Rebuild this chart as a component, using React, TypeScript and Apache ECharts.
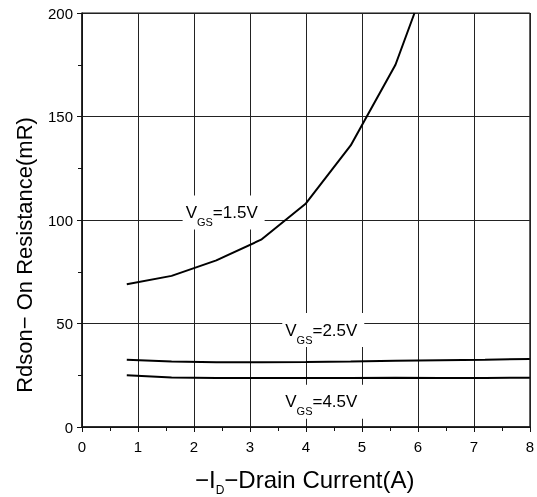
import React, { useEffect, useRef } from "react";
import * as echarts from "echarts";

// Drain current (A) sample points
const currentA = [0.8, 1.6, 2.4, 3.2, 4.0, 4.8, 5.6, 6.4, 7.2, 8.0];
// Rdson (mΩ) for each gate voltage
const vgs15 = [69, 73, 80.5, 90.5, 108, 136, 175];
const vgs15EndX = 5.94;
const vgs15EndY = 200;
const vgs25 = [32.5, 31.6, 31.3, 31.3, 31.4, 31.6, 32.0, 32.3, 32.5, 32.9];
const vgs45 = [25.0, 23.9, 23.7, 23.7, 23.7, 23.7, 23.8, 23.7, 23.7, 23.8];

const xTicks = [0, 1, 2, 3, 4, 5, 6, 7, 8];
const yTicks = [0, 50, 100, 150, 200];

const curveLabels = [
  { tail: "=1.5V", anchor: [2.53, 103.6] },
  { tail: "=2.5V", anchor: [4.31, 46.8] },
  { tail: "=4.5V", anchor: [4.31, 12.2] },
];

export default function App() {
  const ref = useRef<HTMLDivElement>(null);
  useEffect(() => {
    if (!ref.current) return;
    const chart = echarts.init(ref.current, null, { renderer: "svg" });
    const pair = (xs: number[], ys: number[]) => ys.map((y, i) => [xs[i], y]);
    const d15 = pair(currentA, vgs15);
    d15.push([vgs15EndX, vgs15EndY]);
    const lineStyle = { color: "#000", width: 2 };
    const font = "'Liberation Sans', Arial, sans-serif";
    chart.setOption({
      animation: false,
      grid: {
        left: 82,
        right: 5,
        top: 13,
        bottom: 70,
        show: true,
        borderColor: "#111",
        borderWidth: 1,
      },
      xAxis: {
        type: "value",
        min: xTicks[0],
        max: xTicks[xTicks.length - 1],
        interval: 1,
        axisLine: { show: true, lineStyle: { color: "#111", width: 1.5 } },
        axisTick: { show: true, inside: false, length: 5, lineStyle: { color: "#111" } },
        minorTick: { show: true, splitNumber: 2, length: 4, lineStyle: { color: "#111" } },
        splitLine: { show: true, lineStyle: { color: "#222", width: 1 } },
        axisLabel: { color: "#000", fontSize: 15, fontFamily: font, margin: 12, showMaxLabel: true },
      },
      yAxis: {
        type: "value",
        min: yTicks[0],
        max: yTicks[yTicks.length - 1],
        interval: 50,
        axisLine: { show: true, lineStyle: { color: "#111", width: 1.5 } },
        axisTick: { show: true, inside: false, length: 5, lineStyle: { color: "#111" } },
        minorTick: { show: true, splitNumber: 2, length: 4, lineStyle: { color: "#111" } },
        splitLine: { show: true, lineStyle: { color: "#222", width: 1 } },
        axisLabel: { color: "#000", fontSize: 15, fontFamily: font, margin: 9 },
      },
      series: [
        { name: "VGS=1.5V", type: "line", data: d15, showSymbol: false, lineStyle, clip: true },
        { name: "VGS=2.5V", type: "line", data: pair(currentA, vgs25), showSymbol: false, lineStyle },
        { name: "VGS=4.5V", type: "line", data: pair(currentA, vgs45), showSymbol: false, lineStyle },
      ],
    });

    const graphics: any[] = curveLabels.map((lab) => {
      const p = chart.convertToPixel({ gridIndex: 0 }, lab.anchor) as number[];
      return {
        type: "group",
        x: p[0],
        y: p[1],
        z: 100,
        children: [
          { type: "rect", shape: { x: -41, y: -17, width: 82, height: 34 }, style: { fill: "#fff" } },
          {
            type: "text",
            x: -38,
            y: 0,
            style: {
              text: "{m|V}{s|GS}{m|" + lab.tail + "}",
              fontFamily: font,
              fill: "#000",
              verticalAlign: "middle",
              align: "left",
              rich: {
                m: { fontSize: 17, fontFamily: font, lineHeight: 30, verticalAlign: "middle" },
                s: { fontSize: 11, fontFamily: font, lineHeight: 12, verticalAlign: "bottom" },
              },
            },
          },
        ],
      };
    });

    // Axis titles
    graphics.push({
      type: "group",
      x: 24,
      y: 255,
      rotation: Math.PI / 2,
      children: [
        {
          type: "text",
          x: 0,
          y: 0,
          style: {
            text: "Rdson\u2212 On Resistance(mR)",
            fontSize: 22,
            fontFamily: font,
            fill: "#000",
            align: "center",
            verticalAlign: "middle",
          },
        },
      ],
    });
    graphics.push({
      type: "text",
      x: 195,
      y: 479,
      style: {
        text: "{m|\u2212I}{s|D}{m|\u2212Drain Current(A)}",
        fontFamily: font,
        fill: "#000",
        align: "left",
        verticalAlign: "middle",
        rich: {
          m: { fontSize: 24, fontFamily: font, lineHeight: 34, verticalAlign: "middle" },
          s: { fontSize: 12, fontFamily: font, lineHeight: 13, verticalAlign: "bottom" },
        },
      },
    });
    chart.setOption({ graphic: graphics });

    return () => chart.dispose();
  }, []);
  return <div ref={ref} style={{ position: "fixed", left: 0, top: 0, width: 537, height: 497 }} />;
}
